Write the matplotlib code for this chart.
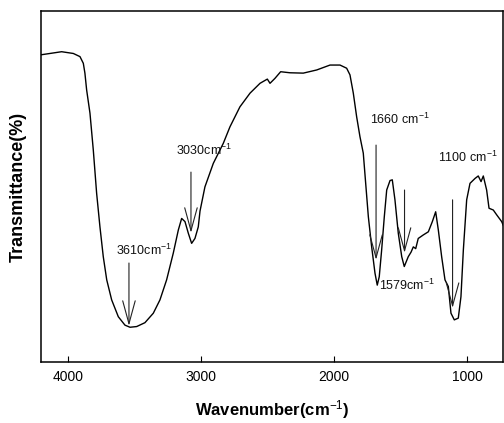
import matplotlib
matplotlib.use("Agg")
import matplotlib.pyplot as plt

# ---- data ----
wavenumber = [4205, 4134, 4046, 3958, 3908, 3883, 3871, 3858, 3833, 3808, 3783, 3758,
              3733, 3707, 3670, 3620, 3570, 3532, 3482, 3420, 3357, 3307, 3257, 3207,
              3169, 3144, 3119, 3094, 3069, 3044, 3019, 3006, 2969, 2906, 2831, 2781,
              2706, 2630, 2555, 2500, 2480, 2443, 2400, 2330, 2230, 2129, 2029, 1954,
              1904, 1879, 1854, 1829, 1804, 1779, 1766, 1741, 1716, 1691, 1674, 1659,
              1641, 1621, 1603, 1578, 1561, 1541, 1516, 1490, 1471, 1441, 1420, 1403,
              1385, 1366, 1328, 1290, 1260, 1235, 1215, 1190, 1165, 1140, 1120, 1095,
              1065, 1045, 1027, 1002, 977, 939, 915, 894, 877, 852, 834, 802, 776,
              739, 722]
transmittance = [87.5, 87.9, 88.4, 87.9, 87.0, 85.1, 82.3, 77.5, 70.9, 60.4, 48.1, 38.5,
                 30.0, 23.4, 17.7, 12.9, 10.5, 9.9, 10.1, 11.2, 13.9, 17.7, 23.4, 31.0,
                 37.6, 40.9, 40.0, 36.7, 33.8, 35.2, 38.5, 43.0, 49.9, 56.6, 62.3, 67.0,
                 72.7, 76.6, 79.4, 80.6, 79.4, 80.8, 82.7, 82.4, 82.3, 83.2, 84.6, 84.6,
                 83.7, 81.8, 76.6, 69.9, 64.2, 59.5, 53.3, 41.4, 32.8, 25.3, 21.9, 24.3,
                 31.9, 41.4, 49.0, 51.7, 51.9, 46.2, 36.7, 30.0, 27.2, 30.0, 31.3, 32.8,
                 32.3, 35.2, 36.2, 37.1, 40.0, 42.8, 37.6, 30.0, 23.4, 21.5, 13.9, 12.0,
                 12.5, 18.6, 31.9, 46.2, 50.9, 52.3, 53.0, 51.4, 53.0, 49.0, 43.8, 43.3,
                 41.9, 40.0, 38.5]

# peak arrows: x position, tail height, tip height
arrow_x = [3540, 3074, 1683, 1469, 1108]
arrow_tail = [28.2, 54.1, 61.8, 49.0, 46.2]
arrow_tip = [10.3, 36.8, 29.1, 31.1, 15.4]

labels = ["3610cm$^{-1}$", "3030cm$^{-1}$", "1660 cm$^{-1}$", "1579cm$^{-1}$", "1100 cm$^{-1}$"]
label_x = [3427, 2976, 1507, 1447, 996]
label_y = [31.9, 60.4, 69.2, 21.7, 58.4]

xticks = [4000, 3000, 2000, 1000]

# ---- fonts ----
plt.rcParams["font.family"] = ["Liberation Sans", "DejaVu Sans"]
plt.rcParams["mathtext.fontset"] = "custom"
plt.rcParams["mathtext.rm"] = "Liberation Sans"
plt.rcParams["mathtext.it"] = "Liberation Sans"
plt.rcParams["mathtext.bf"] = "Liberation Sans:bold"

fig = plt.figure(figsize=(5.04, 4.23), dpi=100)
ax = fig.add_axes([41/504, 61/423, 462/504, 351/423])

ax.plot(wavenumber, transmittance, color="black", lw=1.0)

for x, t0, t1 in zip(arrow_x, arrow_tail, arrow_tip):
    ax.annotate("", xy=(x, t1), xytext=(x, t0),
                arrowprops=dict(arrowstyle="->,head_length=1.65,head_width=0.45",
                                lw=0.8, color="#222222", shrinkA=0, shrinkB=0,
                                mutation_scale=10))

for s, x, y in zip(labels, label_x, label_y):
    ax.text(x, y, s, ha="center", va="center", fontsize=9, color="#111111")

ax.set_xlim(4201, 729)
ax.set_ylim(0, 100)
ax.set_xticks(xticks)
ax.set_xticklabels([str(v) for v in xticks])
ax.set_yticks([])
ax.tick_params(axis="x", direction="in", length=4, width=0.8, pad=6, labelsize=10)
for sp in ax.spines.values():
    sp.set_linewidth(1.1)

ax.set_xlabel("Wavenumber(cm$^{-1}$)", fontsize=12, fontweight="bold", labelpad=10)
ax.set_ylabel("Transmittance(%)", fontsize=13, fontweight="bold", labelpad=10)

fig.savefig("out.png", dpi=100)
